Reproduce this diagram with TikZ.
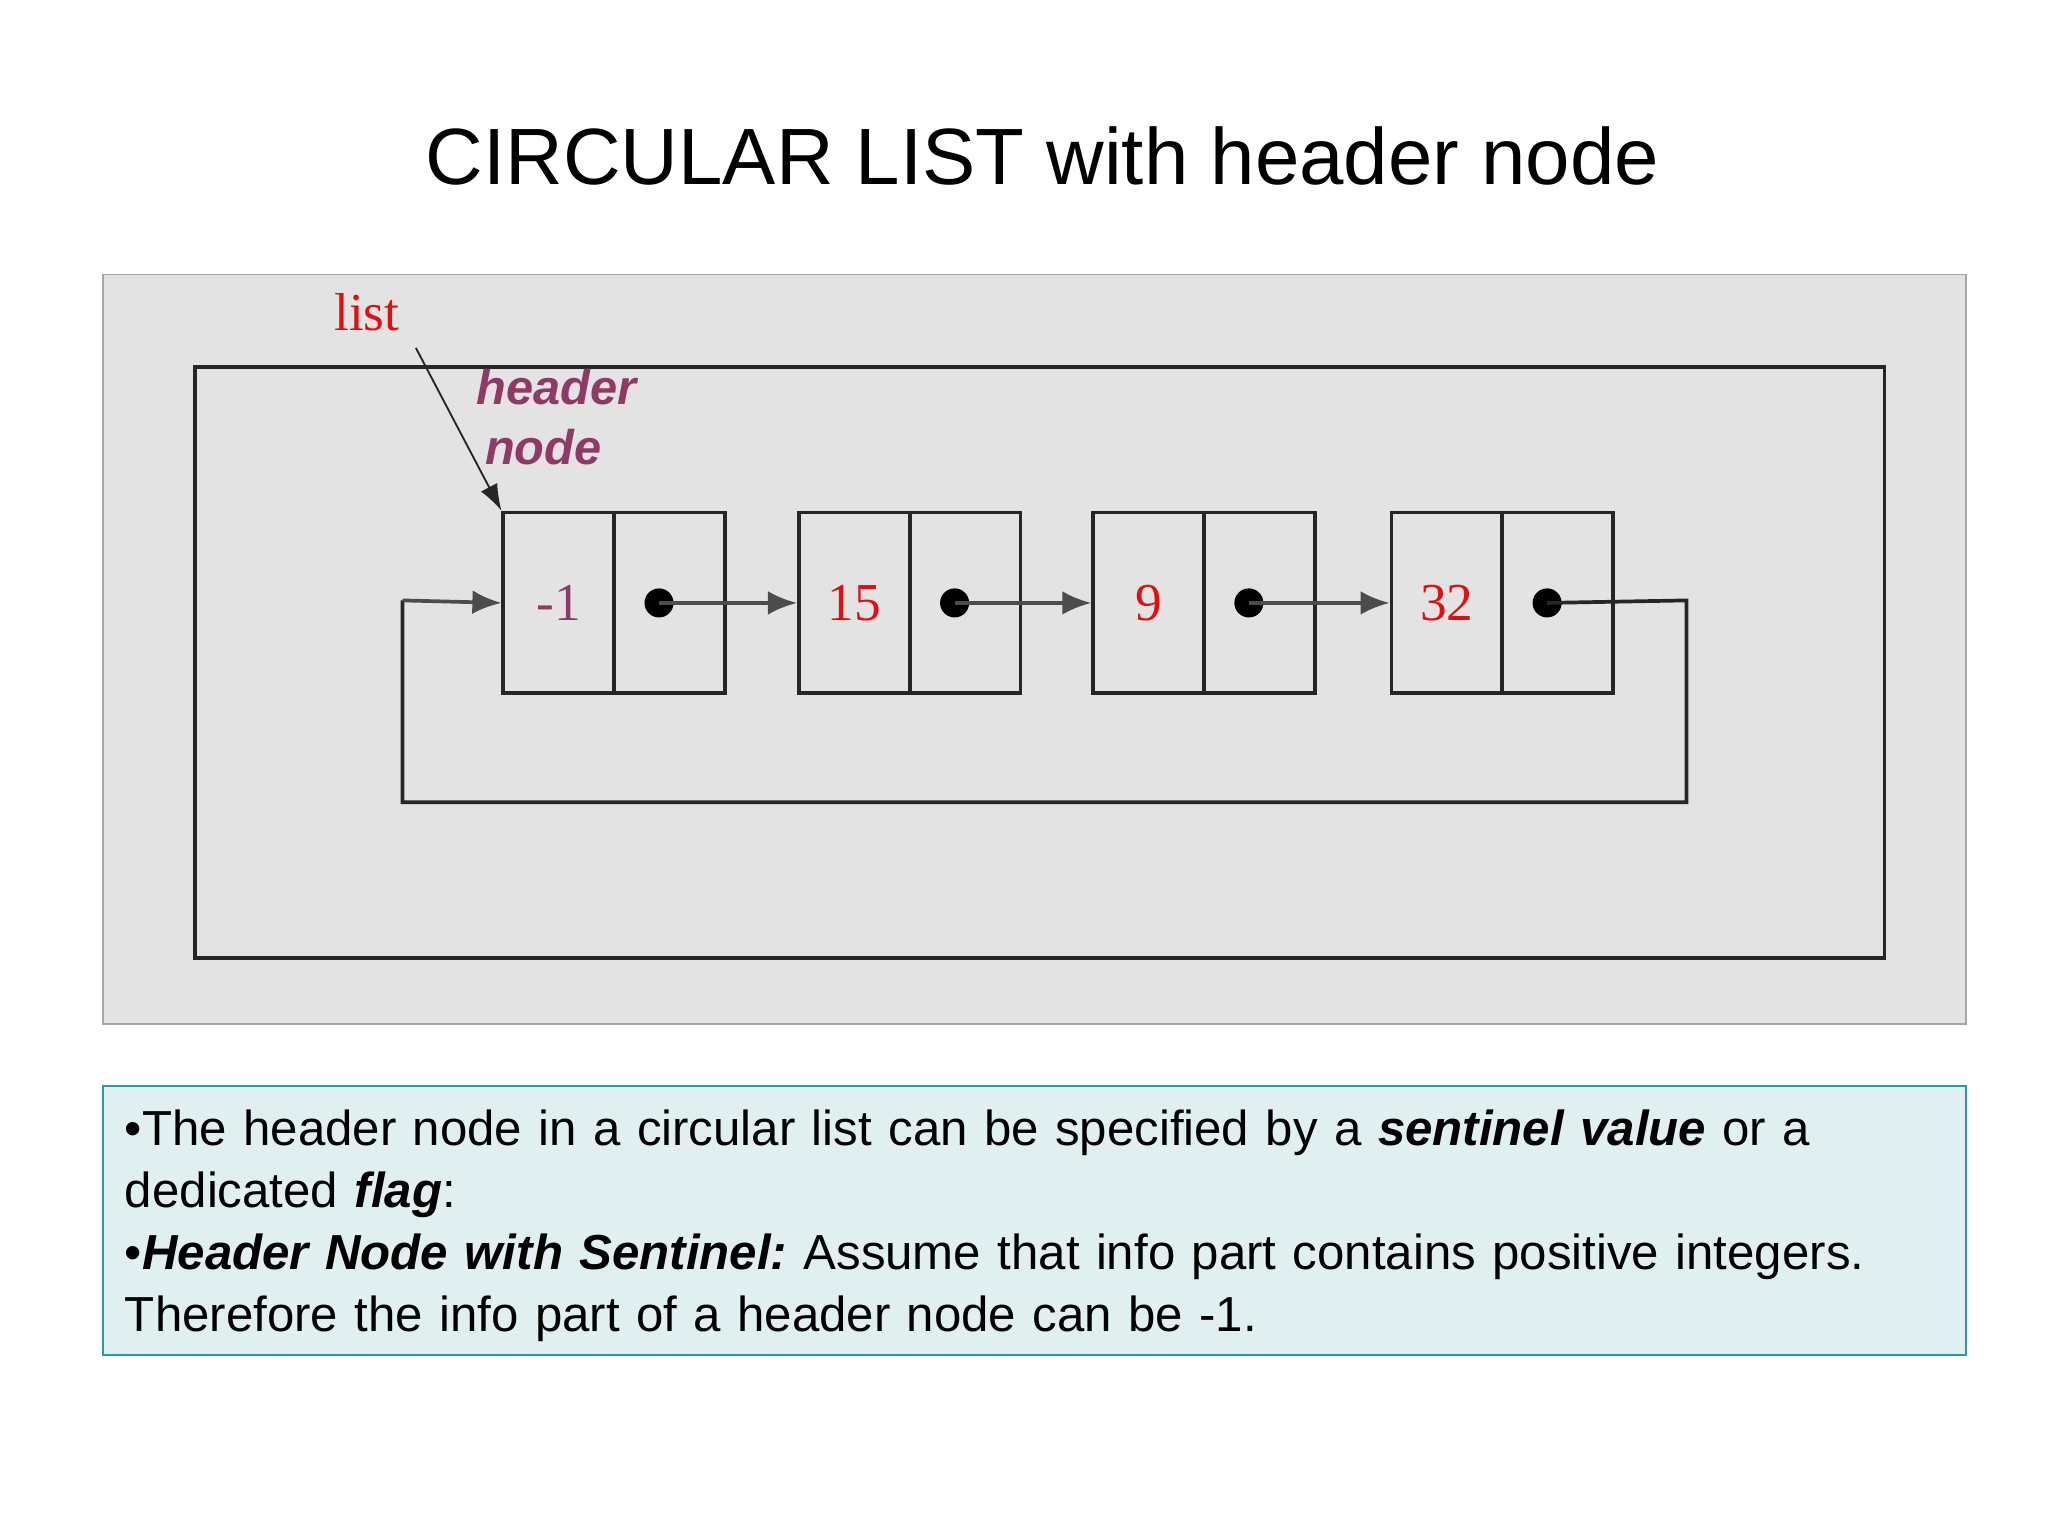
\documentclass[tikz,border=0pt]{standalone}
\usepackage{fontspec}
\setmainfont{Liberation Sans}
\newfontfamily\tms{Liberation Serif}
\usetikzlibrary{arrows.meta}
\definecolor{panel}{HTML}{E3E3E3}
\definecolor{notefill}{HTML}{E0F0F0}
\definecolor{noteedge}{HTML}{2A9A9A}
\definecolor{hdr}{HTML}{8E3A64}
\definecolor{lred}{HTML}{E01010}
\begin{document}
\begin{tikzpicture}[x=0.01cm,y=-0.01cm,
  cell/.style={draw=black!85,thick,minimum width=84*0.01cm,minimum height=137*0.01cm,inner sep=0pt},
  val/.style={font=\tms\fontsize{11.5}{12}\selectfont},
  dot/.style={circle,fill=black,inner sep=0pt,minimum size=0.22cm},
  link/.style={draw=black!70,thick,-{Latex[length=0.22cm,width=0.18cm]}}]
\useasboundingbox (0,0) rectangle (1552,1164);
\node (title) at (790,118) {\fontsize{17.2}{20}\selectfont CIRCULAR LIST with header node};
\draw[gray!70,fill=panel] (78,208) rectangle (1490,776);
\draw[black!85,thick] (148,278) rectangle (1428,726);
% list cells
\foreach \n/\x/\v/\c in {a/380/-1/hdr,b/604/15/lred,c/827/9/lred,d/1053/32/lred}{
  \node[cell,anchor=north west] (\n i) at (\x,387) {};
  \node[cell,anchor=north west] (\n p) at (\x+84,387) {};
  \node[val,text=\c] (\n v) at (\n i.center) {\v};
  \node[dot] (\n d) at ([xshift=-0.08cm]\n p.center) {};
}
\draw[link] (ad.center) -- (bi.west);
\draw[link] (bd.center) -- (ci.west);
\draw[link] (cd.center) -- (di.west);
\coordinate (r1) at (1278,455);
\coordinate (r2) at (1278,608);
\coordinate (r3) at (305,608);
\coordinate (r4) at (305,455);
\draw[black!85,thick] (dd.center) -- (r1) -- (r2) -- (r3) -- (r4);
\draw[link] (r4) -- (ai.west);
\node[text=lred,font=\tms\fontsize{11.5}{12}\selectfont] (lst) at (278,237) {list};
\draw[black!85,-{Latex[length=0.2cm,width=0.14cm]}] (lst.south east) -- (ai.north west);
\node[text=hdr,font=\bfseries\itshape\fontsize{10.5}{14}\selectfont,align=left] (hn) at (422,316) {header\\[-1pt]\,node};
% note
\draw[noteedge,fill=notefill] (78,823) rectangle (1490,1027);
\node[anchor=north west,text width=13.9cm,align=left,inner sep=0pt,font=\fontsize{10.6}{13.4}\selectfont] (note) at (94,840)
{\hyphenpenalty=10000 •The header node in a circular list can be specified by a \textbf{\textit{sentinel value}} or a\\ dedicated \textbf{\textit{flag}}:\\
•\textbf{\textit{Header Node with Sentinel:}}~Assume that info part contains positive integers.\\ Therefore the info part of a header node can be -1.};
\end{tikzpicture}
\end{document}
